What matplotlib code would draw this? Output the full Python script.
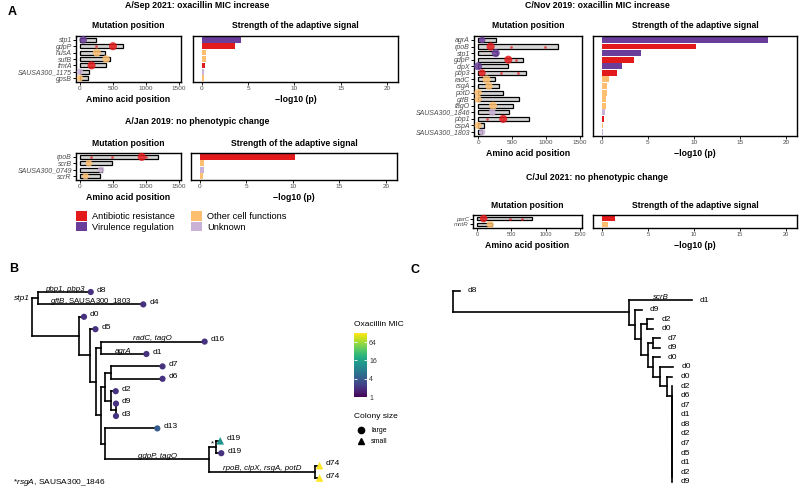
import matplotlib
matplotlib.use("Agg")
import matplotlib.pyplot as plt
from matplotlib.colors import LogNorm
from matplotlib.patches import Patch
from matplotlib.lines import Line2D
from matplotlib.collections import LineCollection
from matplotlib.cm import ScalarMappable

plt.rcParams["font.family"] = ["Liberation Sans", "DejaVu Sans"]
plt.rcParams["mathtext.fontset"] = "custom"
plt.rcParams["mathtext.rm"] = "Liberation Sans"
plt.rcParams["mathtext.it"] = "Liberation Sans:italic"

W, H = 800, 491

# gene function classes
class_order = ["AR", "VR", "OC", "UN"]
class_names = ["Antibiotic resistance", "Virulence regulation", "Other cell functions", "Unknown"]
class_colors = {"AR": "#e31a1c", "VR": "#6a3d9a", "OC": "#fdbf6f", "UN": "#cab2d6"}

# A / Sep 2021
sep_genes = ["stp1", "gdpP", "nusA", "sufB", "fmtA", "SAUSA300_1175", "gpsB"]
sep_length = [250, 650, 385, 460, 395, 130, 115]
sep_class = ["VR", "AR", "OC", "OC", "AR", "UN", "OC"]
sep_pos = [50, 500, 255, 395, 175, 0, 0]
sep_size = [30, 34, 34, 30, 34, 22, 22]
sep_minor = [[], [250], [], [], [], [], []]
sep_logp = [4.25, 3.6, 0.45, 0.42, 0.35, 0.25, 0.2]

# A / Jan 2019
jan_genes = ["rpoB", "scrB", "SAUSA300_0749", "scrR"]
jan_length = [1183, 490, 335, 310]
jan_class = ["AR", "OC", "UN", "OC"]
jan_pos = [935, 135, 320, 85]
jan_size = [34, 24, 22, 22]
jan_minor = [[170, 480, 1000], [], [], []]
jan_logp = [10.25, 0.45, 0.4, 0.35]

# C / Nov 2019
nov_genes = ["agrA", "rpoB", "stp1", "gdpP", "clpX", "pbp3", "radC", "rsgA", "potD",
             "gtfB", "tagO", "SAUSA300_1846", "pbp1", "cspA", "SAUSA300_1803"]
nov_length = [260, 1183, 275, 660, 435, 700, 250, 305, 365, 600, 515, 450, 750, 80, 60]
nov_class = ["VR", "AR", "VR", "AR", "VR", "AR", "OC", "OC", "OC", "OC", "OC", "UN", "AR", "OC", "UN"]
nov_pos = [60, 185, 260, 445, 0, 60, 125, 160, 0, 0, 220, 210, 370, 0, 60]
nov_size = [22, 34, 34, 34, 34, 26, 34, 30, 30, 26, 34, 26, 34, 26, 22]
nov_minor = [[], [485, 985], [], [560], [], [335, 585], [], [], [], [], [], [], [135], [], []]
nov_logp = [18.0, 10.25, 4.2, 3.5, 2.2, 1.6, 0.75, 0.6, 0.5, 0.45, 0.4, 0.35, 0.2, 0.15, 0.1]

# C / Jul 2021
jul_genes = ["parC", "mntR"]
jul_length = [800, 215]
jul_class = ["AR", "OC"]
jul_pos = [95, 190]
jul_size = [30, 26]
jul_minor = [[485, 660], []]
jul_logp = [1.4, 0.7]

# oxacillin MIC colour scale
mic_ticks = [1, 4, 16, 64]
mic_range = [1, 128]


def tip(name, bl, lab=""):
    return (name, bl, lab)


def node(children, bl, lab=""):
    return (children, bl, lab)


def caterpillar(names, bl):
    if len(names) == 2:
        return node([tip(names[0], 0), tip(names[1], 0)], bl)
    return node([tip(names[0], 0), caterpillar(names[1:], 0)], bl)


# B: tree of isolates, branch lengths in mutations
tree_b = node([
    node([tip("d8", 10.1, "pbp1, pbp3"),
          tip("d4", 20.2, r"$\it{gftB}$, SAUSA300_1803")], 1.2, ("stp1", "left")),
    node([tip("d0", 1.0),
          node([tip("d5", 1.1),
                node([node([tip("d16", 20.0, "radC, tagO"), tip("d1", 8.8, "agrA")], 0.8),
                      node([node([node([tip("d7", 10.0), tip("d6", 10.0)], 1.0),
                                  node([tip("d2", 1.0),
                                        node([tip("d9", 0.05), tip("d3", 0.05)], 1.0)], 1.0)], 0.9),
                            node([tip("d13", 10.0),
                                  node([node([tip("d19", 0.8), tip("d19", 1.0)], 1.4, "*"),
                                        node([tip("d74", 0.8), tip("d74", 0.8)], 20.5,
                                             "rpoB, clpX, rsgA, potD")], 19.9, "gdpP, tagO")], 0.9)],
                           0.8)], 1.3)], 2.1)], 9.0)], 0)
b_mic = [2, 2, 2, 2, 2, 2, 2, 2, 2, 2, 2, 4, 12, 2, 128, 128]
b_colony = ["large"] * 12 + ["small", "large", "small", "small"]

# C: tree of colonies
c_zero_tips = ["d2", "d6", "d7", "d1", "d8", "d2", "d7", "d5", "d1", "d2", "d9"]
tree_c = node([
    tip("d8", 0.96),
    node([tip("d1", 8.94, "scrB"),
          node([tip("d9", 0.95),
                node([node([tip("d2", 0.86), tip("d0", 0.86)], 0.9),
                      node([node([tip("d7", 0.96), tip("d9", 0.96)], 0.71),
                            node([tip("d0", 0.96),
                                  node([tip("d0", 1.9),
                                        node([tip("d0", 0.78), caterpillar(c_zero_tips, 0.78)],
                                             0.96)], 0.96)], 0.71)], 1.05)], 0.85)], 0.81)], 25.14)], 0)


fig = plt.figure(figsize=(8, 4.91), dpi=100)


def px_rect(x0, y0, x1, y1):
    return [x0 / W, 1 - y1 / H, (x1 - x0) / W, (y1 - y0) / H]


def fig_text(x, y, s, **kw):
    fig.text(x / W, 1 - y / H, s, **kw)


def gene_panel(title, col_x, title_y, mut_box, str_box, genes, length, cls, pos, size, minor, logp,
               ylab=5.0, xlab=4.6):
    n = len(genes)
    rows = list(range(n - 1, -1, -1))
    colors = [class_colors[c] for c in cls]
    fig_text(col_x + 197, title_y, title, ha="center", va="center", fontsize=6.3, fontweight="bold")

    axm = fig.add_axes(px_rect(*mut_box))
    axm.barh(rows, length, height=0.62, color="#d4d4d4", edgecolor="black", linewidth=0.9, zorder=2)
    for r, pl, c in zip(rows, minor, colors):
        axm.scatter(pl, [r] * len(pl), s=4, color=c, alpha=0.7, linewidths=0, zorder=3)
    axm.scatter(pos, rows, s=size, color=colors, alpha=0.85, linewidths=0, zorder=4, clip_on=False)
    axm.set_xlim(-60, 1530)
    axm.set_ylim(-0.6, n - 0.4)
    axm.set_xticks([0, 500, 1000, 1500])
    axm.set_yticks(rows, genes, fontstyle="italic")
    axm.tick_params(axis="y", length=2, width=0.7, pad=1, labelsize=ylab, labelcolor="#4d4d4d")

    axs = fig.add_axes(px_rect(*str_box))
    axs.barh(rows, logp, height=0.9, color=colors, zorder=2)
    axs.set_xlim(-0.97, 21.2)
    axs.set_ylim(-0.6, n - 0.4)
    axs.set_xticks([0, 5, 10, 15, 20])
    axs.tick_params(axis="y", left=False, labelleft=False)

    for ax, box, sub, lab in [(axm, mut_box, "Mutation position", "Amino acid position"),
                              (axs, str_box, "Strength of the adaptive signal", "\u2212log10 (p)")]:
        for sp in ax.spines.values():
            sp.set_linewidth(1.0)
        ax.tick_params(axis="x", length=2, width=0.6, pad=1.2, labelsize=xlab, labelcolor="#4d4d4d")
        cx = (box[0] + box[2]) / 2
        fig_text(cx, box[1] - 10, sub, ha="center", va="center", fontsize=6.2, fontweight="bold")
        fig_text(cx, box[3] + 17, lab, ha="center", va="center", fontsize=6.3, fontweight="bold")


gene_panel("A/Sep 2021: oxacillin MIC increase", 0, 5, (76, 36, 181, 82), (193, 36, 398, 82),
           sep_genes, sep_length, sep_class, sep_pos, sep_size, sep_minor, sep_logp)
gene_panel("A/Jan 2019: no phenotypic change", 0, 121, (76, 153, 181, 180), (191, 153, 397, 180),
           jan_genes, jan_length, jan_class, jan_pos, jan_size, jan_minor, jan_logp)
gene_panel("C/Nov 2019: oxacillin MIC increase", 400, 5, (474, 36, 582, 136), (593, 36, 797, 136),
           nov_genes, nov_length, nov_class, nov_pos, nov_size, nov_minor, nov_logp)
gene_panel("C/Jul 2021: no phenotypic change", 400, 177, (473, 215, 582, 228), (593, 215, 797, 228),
           jul_genes, jul_length, jul_class, jul_pos, jul_size, jul_minor, jul_logp, ylab=4.4, xlab=4.1)

# class legend
handles = [Patch(facecolor=class_colors[c], edgecolor="none", label=nm) for c, nm in zip(class_order, class_names)]
fig.legend(handles=handles, ncol=2, loc="upper left", bbox_to_anchor=(76 / W, 1 - 211.5 / H),
           frameon=False, fontsize=6.7, handlelength=1.15, handleheight=1.15, handletextpad=0.55,
           columnspacing=1.8, labelspacing=0.05, borderpad=0, borderaxespad=0)

# panel letters
for letter, x, y in [("A", 12, 12), ("B", 14, 269), ("C", 415, 270)]:
    fig_text(x, y, letter, ha="center", va="center", fontsize=9, fontweight="bold")


def draw_tree(ax, tree, lab_dy):
    tips, hseg, vseg, labs = [], [], [], []

    def walk(nd, x0):
        kids, bl, lab = nd
        x = x0 + bl
        if isinstance(kids, str):
            y = len(tips)
            tips.append((kids, x, y))
        else:
            ys = [walk(k, x) for k in kids]
            y = sum(ys) / len(ys)
            vseg.append([(x, min(ys)), (x, max(ys))])
        if bl > 0:
            hseg.append([(x0, y), (x, y)])
        if lab:
            labs.append((x0, x, y, lab))
        return y

    walk(tree, 0.0)
    ax.add_collection(LineCollection(hseg + vseg, colors="black", linewidths=1.2, capstyle="projecting"))
    for x0, x1, y, lab in labs:
        if isinstance(lab, tuple):
            ax.text(x0 - 0.45, y, lab[0], ha="right", va="center", fontsize=6, fontstyle="italic")
        else:
            style = "normal" if ("$" in lab or lab == "*") else "italic"
            ax.text((x0 + x1) / 2, y - lab_dy, lab, ha="center", va="baseline", fontsize=5.7, fontstyle=style)
    ax.axis("off")
    return tips


# B tree
norm = LogNorm(vmin=mic_range[0], vmax=mic_range[1])
axb = fig.add_axes(px_rect(0, 280, 400, 491))
axb.set_xlim(-32 / 5.2, 368 / 5.2)
axb.set_ylim((491 - 292) / 12.4, (280 - 292) / 12.4)
tips_b = draw_tree(axb, tree_b, 0.12)
for shape, marker, s in [("large", "o", 20), ("small", "^", 30)]:
    sel = [i for i, c in enumerate(b_colony) if c == shape]
    axb.scatter([tips_b[i][1] for i in sel], [tips_b[i][2] for i in sel], c=[b_mic[i] for i in sel],
                cmap="viridis", norm=norm, marker=marker, s=s, linewidths=0, zorder=5)
for name, x, y in tips_b:
    axb.text(x + 1.15, y - 0.15, name, ha="left", va="center", fontsize=6.1)
fig_text(13, 482, r"*$\it{rsgA}$, SAUSA300_1846", ha="left", va="center", fontsize=6)

# MIC colour bar
fig_text(354, 325, "Oxacillin MIC", ha="left", va="center", fontsize=6)
cax = fig.add_axes(px_rect(354, 333, 367, 397))
cb = fig.colorbar(ScalarMappable(norm=norm, cmap="viridis"), cax=cax)
cb.outline.set_visible(False)
cb.minorticks_off()
cb.set_ticks(mic_ticks, labels=[str(t) for t in mic_ticks])
cax.tick_params(length=0, pad=1.5, labelsize=5, labelcolor="#333333")
for t in mic_ticks:
    cax.hlines(t, 0, 0.22, colors="white", linewidth=0.6)
    cax.hlines(t, 0.78, 1, colors="white", linewidth=0.6)

# colony size legend
fig_text(354, 417, "Colony size", ha="left", va="center", fontsize=6)
shape_handles = [Line2D([], [], marker="o", color="black", linestyle="", markersize=4.5, label="large"),
                 Line2D([], [], marker="^", color="black", linestyle="", markersize=5, label="small")]
fig.legend(handles=shape_handles, loc="upper left", bbox_to_anchor=(356.8 / W, 1 - 427 / H),
           frameon=False, fontsize=5, handlelength=1.2, handletextpad=0.85, labelspacing=0.62,
           borderpad=0, borderaxespad=0)

# C tree
axc = fig.add_axes(px_rect(440, 280, 800, 491))
axc.set_xlim((440 - 453.3) / 7, (800 - 453.3) / 7)
axc.set_ylim((491 - 290.5) / 9.56, (280 - 290.5) / 9.56)
tips_c = draw_tree(axc, tree_c, 0.15)
for name, x, y in tips_c:
    axc.text(x + 1.15, y, name, ha="left", va="center", fontsize=6)

fig.savefig("out.png", dpi=100)
